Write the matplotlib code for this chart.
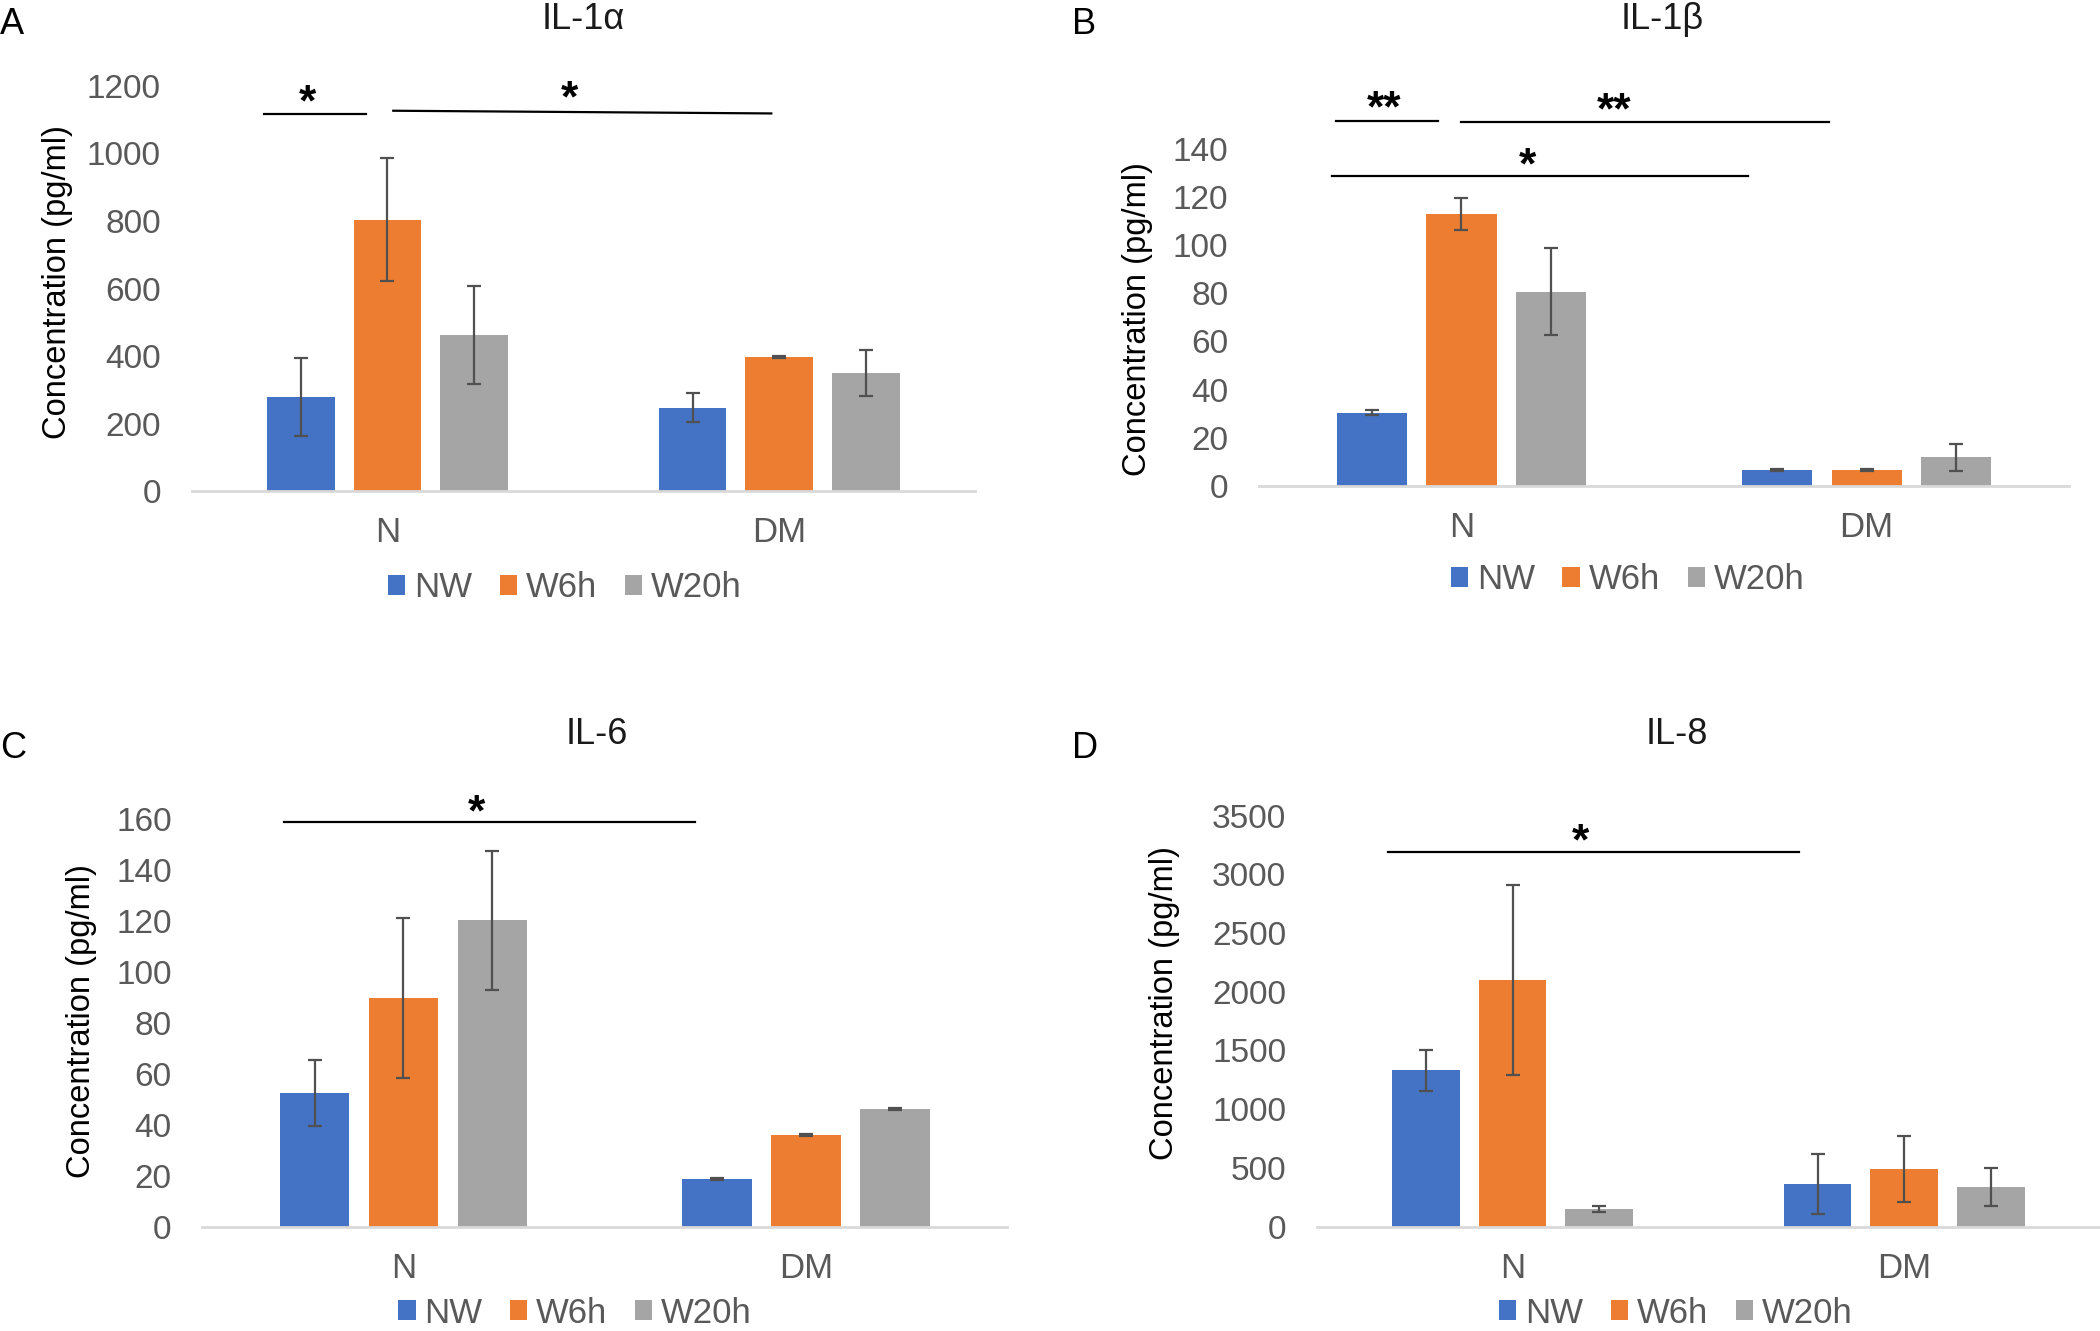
import numpy as np
import matplotlib
matplotlib.use("Agg")
import matplotlib.pyplot as plt
import matplotlib.transforms as mtransforms
from matplotlib.patches import Patch

plt.rcParams["font.family"] = ["Liberation Sans", "DejaVu Sans"]

GROUPS = ["N", "DM"]
SERIES = ["NW", "W6h", "W20h"]
COLORS = ["#4472C4", "#ED7D31", "#A5A5A5"]

# rows = series (NW, W6h, W20h), cols = groups (N, DM)
IL1A_MEAN = [[279, 248], [804, 397], [462, 349]]
IL1A_ERR = [[115, 42], [183, 3], [145, 68]]
IL1B_MEAN = [[30.5, 6.6], [112.9, 6.6], [80.7, 11.9]]
IL1B_ERR = [[1.0, 0.3], [6.5, 0.3], [18.0, 5.5]]
IL6_MEAN = [[52.4, 18.6], [89.8, 36.0], [120.4, 46.2]]
IL6_ERR = [[13.0, 0.3], [31.6, 0.3], [27.4, 0.3]]
IL8_MEAN = [[1332, 365], [2099, 489], [148, 334]]
IL8_ERR = [[175, 255], [807, 284], [28, 163]]

# significance annotations: (x0, x1, y0, y1, text x, text y, label)
IL1A_SIG = [(-0.315, -0.054, 1117, 1117, -0.204, 1180, "*"),
            (0.015, 0.98, 1126, 1118, 0.466, 1192, "*")]
IL1B_SIG = [(-0.309, -0.058, 151.6, 151.6, -0.19, 160.6, "**"),
            (-0.002, 0.907, 150.9, 150.9, 0.376, 159.8, "**"),
            (-0.319, 0.707, 128.5, 128.5, 0.162, 137.0, "*")]
IL6_SIG = [(-0.298, 0.725, 159.2, 159.2, 0.181, 166.7, "*")]
IL8_SIG = [(-0.318, 0.732, 3187, 3187, 0.174, 3362, "*")]

WIDTH = 0.173
OFFS = [-0.221, 0.0, 0.221]
TXT = "#595959"

fig = plt.figure(figsize=(21, 13.31), dpi=100)


def panel(rect, means, errs, ymax, step, sig, title, title_xy, letter,
          letter_xy, ylab_xy, leg_xy):
    ax = fig.add_axes(rect)
    x = np.arange(len(GROUPS))
    for i, col in enumerate(COLORS):
        ax.bar(x + OFFS[i], means[i], WIDTH, color=col, zorder=2)
        ax.errorbar(x + OFFS[i], means[i], yerr=errs[i], fmt="none",
                    ecolor="#505050", elinewidth=1.6, capsize=5,
                    capthick=1.6, zorder=3)
    ax.set_xlim(-0.5, 1.5)
    ax.set_ylim(0, ymax)
    ax.set_yticks(np.arange(0, ymax + 1, step))
    ax.set_xticks(x)
    ax.set_xticklabels(GROUPS)
    for s in ("left", "right", "top"):
        ax.spines[s].set_visible(False)
    ax.spines["bottom"].set_color("#D9D9D9")
    ax.spines["bottom"].set_linewidth(2)
    ax.tick_params(axis="y", length=0, pad=22, labelsize=24, labelcolor=TXT)
    ax.tick_params(axis="x", length=0, pad=18, labelsize=25, labelcolor=TXT)
    shift = mtransforms.offset_copy(ax.transData, fig=fig, y=-11, units="dots")
    for x0, x1, y0, y1, tx, ty, lab in sig:
        ax.plot([x0, x1], [y0, y1], color="black", lw=1.6, clip_on=False)
        ax.text(tx, ty, lab, ha="center", va="center", fontsize=32,
                fontweight="bold", clip_on=False, transform=shift)
    fig.text(*title_xy, title, ha="center", va="center", fontsize=26,
             color="#1a1a1a")
    fig.text(*letter_xy, letter, ha="left", va="center", fontsize=26)
    fig.text(*ylab_xy, "Concentration (pg/ml)", rotation=90, ha="center",
             va="center", fontsize=23.5)
    fig.legend(handles=[Patch(facecolor=c) for c in COLORS], labels=SERIES,
               loc="center", bbox_to_anchor=leg_xy, ncol=3, frameon=False,
               fontsize=25, handlelength=0.5, handleheight=0.5,
               handletextpad=0.25, columnspacing=0.8, labelcolor=TXT,
               borderaxespad=0, borderpad=0)
    return ax


panel([0.0912, 0.6308, 0.3731, 0.3048], IL1A_MEAN, IL1A_ERR, 1200, 200,
      IL1A_SIG, "IL-1α", (0.2779, 0.985), "A", (0.0, 0.9815),
      (0.0272, 0.788), (0.269, 0.5585))
panel([0.5995, 0.6348, 0.3858, 0.2535], IL1B_MEAN, IL1B_ERR, 140, 20,
      IL1B_SIG, "IL-1β", (0.7916, 0.985), "B", (0.5105, 0.9815),
      (0.5417, 0.7606), (0.775, 0.5645))
panel([0.0963, 0.0785, 0.3833, 0.3058], IL6_MEAN, IL6_ERR, 160, 20,
      IL6_SIG, "IL-6", (0.284, 0.4485), "C", (0.0, 0.4376),
      (0.039, 0.2325), (0.2738, 0.0135))
panel([0.627, 0.0785, 0.373, 0.3088], IL8_MEAN, IL8_ERR, 3500, 500,
      IL8_SIG, "IL-8", (0.7987, 0.4485), "D", (0.5105, 0.4376),
      (0.5545, 0.2462), (0.798, 0.0135))

fig.savefig("out.png", dpi=100)
